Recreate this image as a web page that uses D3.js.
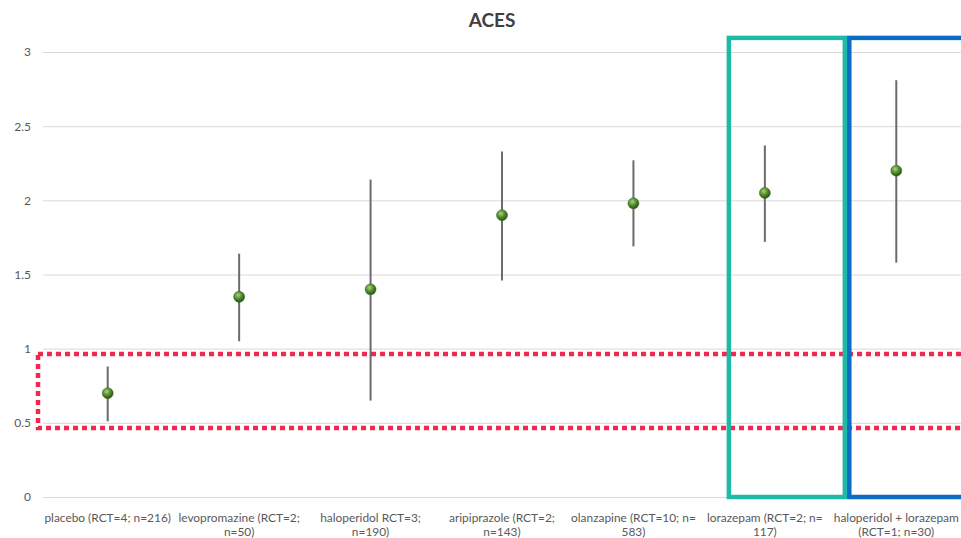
<!DOCTYPE html>
<html><head><meta charset="utf-8">
<script src="https://cdn.jsdelivr.net/npm/d3@7"></script>
<style>body{margin:0;background:#fff}svg{display:block}</style>
</head><body>
<svg id="c" width="961" height="538"></svg>
<script>
const categories = [
  ["placebo (RCT=4; n=216)"],
  ["levopromazine (RCT=2;", "n=50)"],
  ["haloperidol RCT=3;", "n=190)"],
  ["aripiprazole (RCT=2;", "n=143)"],
  ["olanzapine (RCT=10; n=", "583)"],
  ["lorazepam (RCT=2; n=", "117)"],
  ["haloperidol + lorazepam", "(RCT=1; n=30)"]
];
const means = [0.70, 1.35, 1.40, 1.90, 1.98, 2.05, 2.20];
const lower = [0.51, 1.05, 0.65, 1.46, 1.69, 1.72, 1.58];
const upper = [0.88, 1.64, 2.14, 2.33, 2.27, 2.37, 2.81];
const yTicks = [0, 0.5, 1, 1.5, 2, 2.5, 3];
const redBand = [0.465, 0.964];
const boxTop = 3.095;

const svg = d3.select("#c");
const font = "Lato, 'Open Sans', sans-serif";
const x = d3.scaleBand().domain(d3.range(categories.length)).range([42, 962]);
const y = d3.scaleLinear().domain([0, 3]).range([497, 52]);
const cx = i => x(i) + x.bandwidth() / 2;

const defs = svg.append("defs");
const g = defs.append("radialGradient").attr("id", "ball").attr("cx", "40%").attr("cy", "35%").attr("r", "65%");
g.append("stop").attr("offset", "0%").attr("stop-color", "#a9d47a");
g.append("stop").attr("offset", "55%").attr("stop-color", "#4f8a2b");
g.append("stop").attr("offset", "100%").attr("stop-color", "#2c5215");

svg.append("text").attr("x", 492).attr("y", 27).attr("text-anchor", "middle")
  .attr("font-family", font).attr("font-weight", "bold").attr("font-size", 19).attr("fill", "#404040").text("ACES");

const yAxis = d3.axisLeft(y).tickValues(yTicks).tickSize(-(961 - 43)).tickFormat(d3.format("~g")).tickPadding(12);
const ya = svg.append("g").attr("transform", "translate(43,0)").call(yAxis);
ya.select(".domain").remove();
ya.selectAll("line").attr("stroke", "#d9d9d9").attr("stroke-width", 1);
ya.selectAll("text").attr("font-family", font).attr("font-size", 12).attr("fill", "#595959");

const xl = svg.append("g");
categories.forEach((lines, i) => {
  const t = xl.append("text").attr("x", cx(i)).attr("y", 522).attr("text-anchor", "middle")
    .attr("font-family", font).attr("font-size", 11.9).attr("fill", "#595959");
  lines.forEach((l, k) => t.append("tspan").attr("x", cx(i)).attr("dy", k ? 14 : 0).text(l));
});

svg.append("g").selectAll("line").data(means).join("line")
  .attr("x1", (d, i) => cx(i)).attr("x2", (d, i) => cx(i))
  .attr("y1", (d, i) => y(lower[i])).attr("y2", (d, i) => y(upper[i]))
  .attr("stroke", "#6b6b6b").attr("stroke-width", 2);

svg.append("g").selectAll("circle").data(means).join("circle")
  .attr("cx", (d, i) => cx(i)).attr("cy", d => y(d)).attr("r", 5.5)
  .attr("fill", "url(#ball)").attr("stroke", "#3a6420").attr("stroke-width", 0.5);

svg.append("rect").attr("x", 38).attr("y", y(redBand[1])).attr("width", 1000)
  .attr("height", y(redBand[0]) - y(redBand[1]))
  .attr("fill", "none").attr("stroke", "#f2284e").attr("stroke-width", 4.5).attr("stroke-dasharray", "5,4");

svg.append("rect").attr("x", cx(5) - 36).attr("y", y(boxTop)).attr("width", 116)
  .attr("height", y(0) - y(boxTop)).attr("fill", "none").attr("stroke", "#1fb9a8").attr("stroke-width", 4.5);
svg.append("rect").attr("x", cx(6) - 47).attr("y", y(boxTop)).attr("width", 300)
  .attr("height", y(0) - y(boxTop)).attr("fill", "none").attr("stroke", "#0b6ec2").attr("stroke-width", 4.5);
</script>
</body></html>
